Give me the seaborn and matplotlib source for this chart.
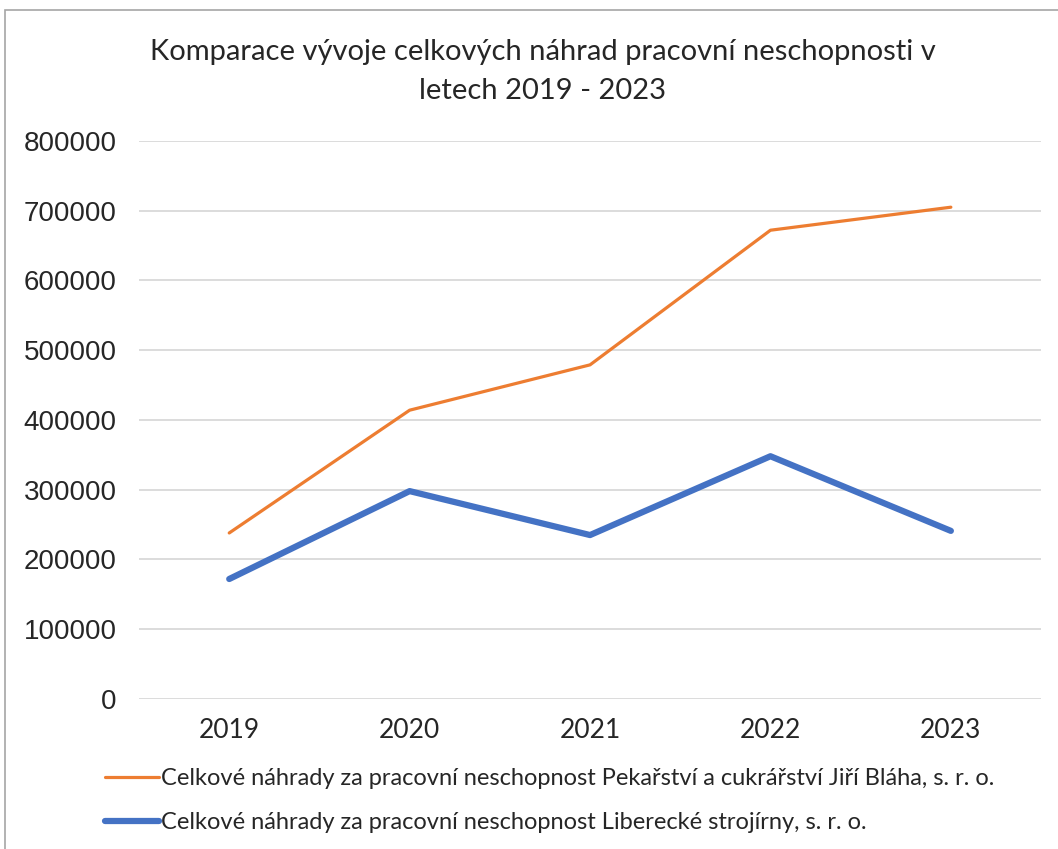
import pandas as pd
import matplotlib.pyplot as plt
import seaborn as sns
from matplotlib.patches import Rectangle

# data
years = ["2019", "2020", "2021", "2022", "2023"]
pekarstvi = [238000, 414000, 479000, 672000, 705000]
strojirny = [172000, 298000, 235000, 348000, 241000]
series_names = [
    "Celkové náhrady za pracovní neschopnost Pekařství a cukrářství Jiří Bláha, s. r. o.",
    "Celkové náhrady za pracovní neschopnost Liberecké strojírny, s. r. o.",
]
y_ticks = [0, 100000, 200000, 300000, 400000, 500000, 600000, 700000, 800000]

df = pd.DataFrame({
    "rok": years * 2,
    "hodnota": pekarstvi + strojirny,
    "serie": [series_names[0]] * 5 + [series_names[1]] * 5,
})

sns.set_style("white")
plt.rcParams["font.family"] = ["Lato", "DejaVu Sans"]

fig = plt.figure(figsize=(10.58, 8.49), dpi=100)
ax = fig.add_axes([0.1314, 0.1767, 0.8526, 0.6573])

colors = {series_names[0]: "#ED7D31", series_names[1]: "#4472C4"}
sns.lineplot(data=df, x="rok", y="hodnota", hue="serie", palette=colors,
             ax=ax, legend=False, sort=False)
ax.lines[0].set_linewidth(2.3)
ax.lines[1].set_linewidth(4.5)
for ln in ax.lines:
    ln.set_solid_capstyle("round")

ax.set_xlim(-0.5, 4.5)
ax.set_ylim(0, 800000)
ax.set_yticks(y_ticks)
ax.set_yticklabels([str(v) for v in y_ticks], family="Liberation Sans", fontsize=20)
ax.set_xticks(range(len(years)))
ax.set_xticklabels(years, fontsize=19)
ax.tick_params(axis="both", length=0)
ax.tick_params(axis="y", pad=16)
ax.tick_params(axis="x", pad=14)
ax.yaxis.grid(True, color="#D9D9D9", linewidth=1.3)
ax.set_axisbelow(True)
for s in ax.spines.values():
    s.set_visible(False)
ax.set_xlabel("")
ax.set_ylabel("")

fig.text(0.513, 0.916, "Komparace vývoje celkových náhrad pracovní neschopnosti v\nletech 2019 - 2023",
         ha="center", va="center", fontsize=21, linespacing=1.6)

# legend
handles = [plt.Line2D([], [], color="#ED7D31", linewidth=2.3),
           plt.Line2D([], [], color="#4472C4", linewidth=4.5)]
fig.legend(handles, series_names, loc="upper left", bbox_to_anchor=(0.09, 0.106),
           frameon=False, fontsize=17, handlelength=2.3, handletextpad=0.1,
           labelspacing=0.95, borderaxespad=0)

# chart border
fig.patches.append(Rectangle((0.005, -0.1), 1.2, 1.088, transform=fig.transFigure,
                             fill=False, edgecolor="#A6A6A6", linewidth=1.2))

fig.savefig("out.png", dpi=100)
